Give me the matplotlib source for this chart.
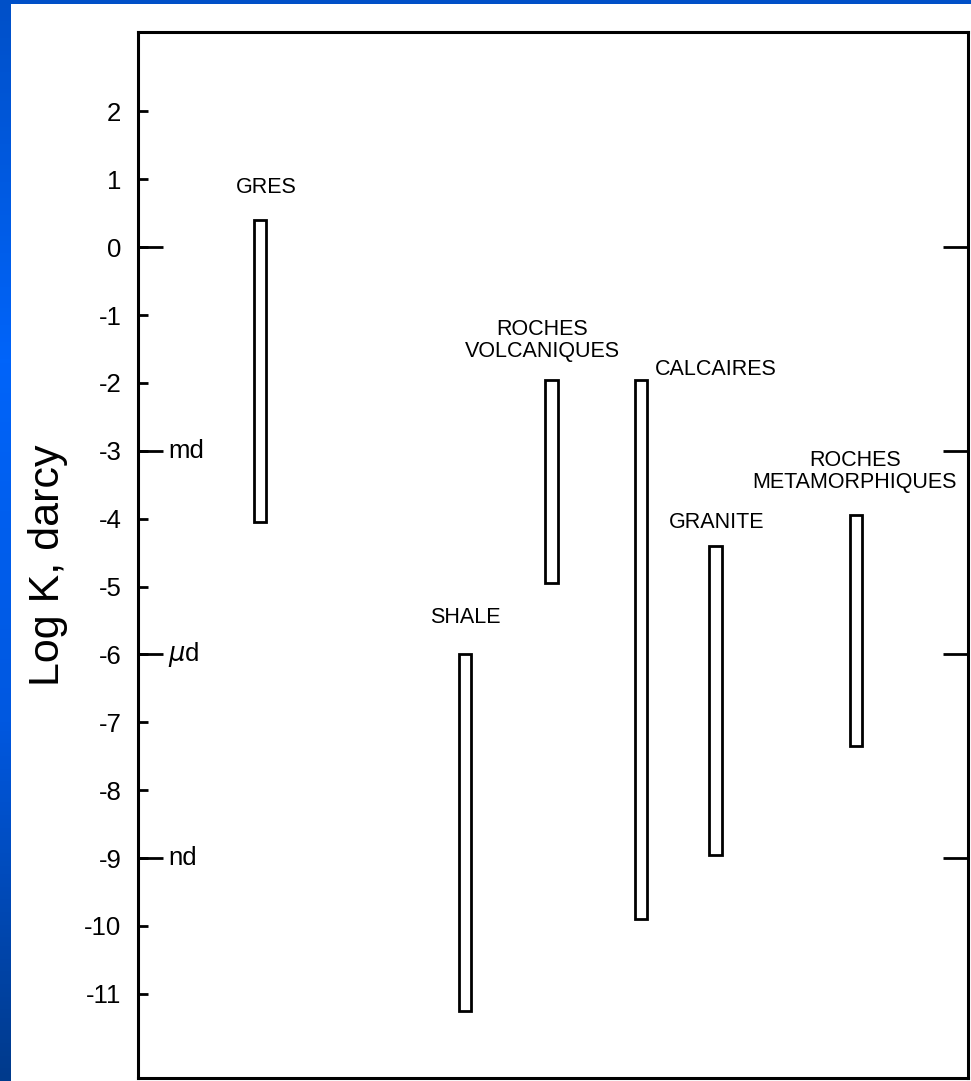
import numpy as np
import matplotlib
matplotlib.use('Agg')
import matplotlib.pyplot as plt
from matplotlib.colors import LinearSegmentedColormap
from matplotlib.patches import Rectangle

plt.rcParams['font.family'] = ['Liberation Sans', 'DejaVu Sans']

# rock types and permeability ranges (log K, darcy)
rocks = ['GRES', 'SHALE', 'ROCHES\nVOLCANIQUES', 'CALCAIRES', 'GRANITE',
         'ROCHES\nMETAMORPHIQUES']
xpos = [1.47, 3.94, 4.98, 6.06, 6.96, 8.65]
k_top = [0.4, -6.0, -1.95, -1.95, -4.4, -3.95]
k_bot = [-4.05, -11.25, -4.95, -9.9, -8.95, -7.35]

yticks = list(range(-11, 3))
unit_ticks = [0, -3, -6, -9]
unit_labels = ['', 'md', r'$\mu$d', 'nd']

# label offsets from bar top (pixels), and alignment
lab_dx = [6, 0, -9, 14, 1, -1]
lab_dy = [22, 26, 18, 0, 13, 22]
lab_ha = ['center', 'center', 'center', 'left', 'center', 'center']

W, H = 971, 1081
fig = plt.figure(figsize=(W / 100, H / 100), dpi=100)

# slide background: blue gradient with white page
bg = fig.add_axes([0, 0, 1, 1], zorder=-10)
cmap = LinearSegmentedColormap.from_list('slide', ['#0050c8', '#0064fa', '#0058e0', '#003a8c'])
grad = np.linspace(0, 1, 256).reshape(-1, 1)
bg.imshow(grad, cmap=cmap, aspect='auto', extent=[0, 1, 0, 1], origin='upper')
bg.add_patch(Rectangle((11 / W, 0), 1, 1 - 4 / H, facecolor='white', edgecolor='none'))
bg.set_xlim(0, 1)
bg.set_ylim(0, 1)
bg.axis('off')

ax = fig.add_axes([138 / W, 3 / H, (968 - 138) / W, (1078 - 32) / H])
ax.set_facecolor('white')
ax.set_xlim(0, 10)
ax.set_ylim(-12.24, 3.17)

heights = np.array(k_top) - np.array(k_bot)
ax.bar(xpos, heights, bottom=k_bot, width=0.155, facecolor='white',
       edgecolor='black', linewidth=2.0, zorder=3)

for i, name in enumerate(rocks):
    ax.annotate(name, (xpos[i], k_top[i]), xytext=(lab_dx[i] * 0.72, lab_dy[i] * 0.72),
                textcoords='offset points', ha=lab_ha[i], va='bottom',
                fontsize=15.5, linespacing=1.05, multialignment='center')

for sp in ax.spines.values():
    sp.set_linewidth(2.2)

ax.set_xticks([])
ax.yaxis.remove_overlapping_locs = False
ax.set_yticks(yticks)
ax.set_yticklabels([str(t) for t in yticks], fontsize=18.5)
ax.set_yticks(unit_ticks, minor=True)
ax.tick_params(axis='y', which='major', direction='in', length=7, width=2,
               pad=12, left=True, right=False)
ax.tick_params(axis='y', which='minor', direction='in', length=18, width=2,
               left=True, right=True, labelleft=False, labelright=False)

for t, lab in zip(unit_ticks, unit_labels):
    ax.text(0.036, t, lab, transform=ax.get_yaxis_transform(), ha='left',
            va='center', fontsize=18.5)

fig.text(48 / W, 1 - 565 / H, 'Log K, darcy', rotation=90, ha='center',
         va='center', fontsize=31)

fig.savefig('out.png', dpi=100)
